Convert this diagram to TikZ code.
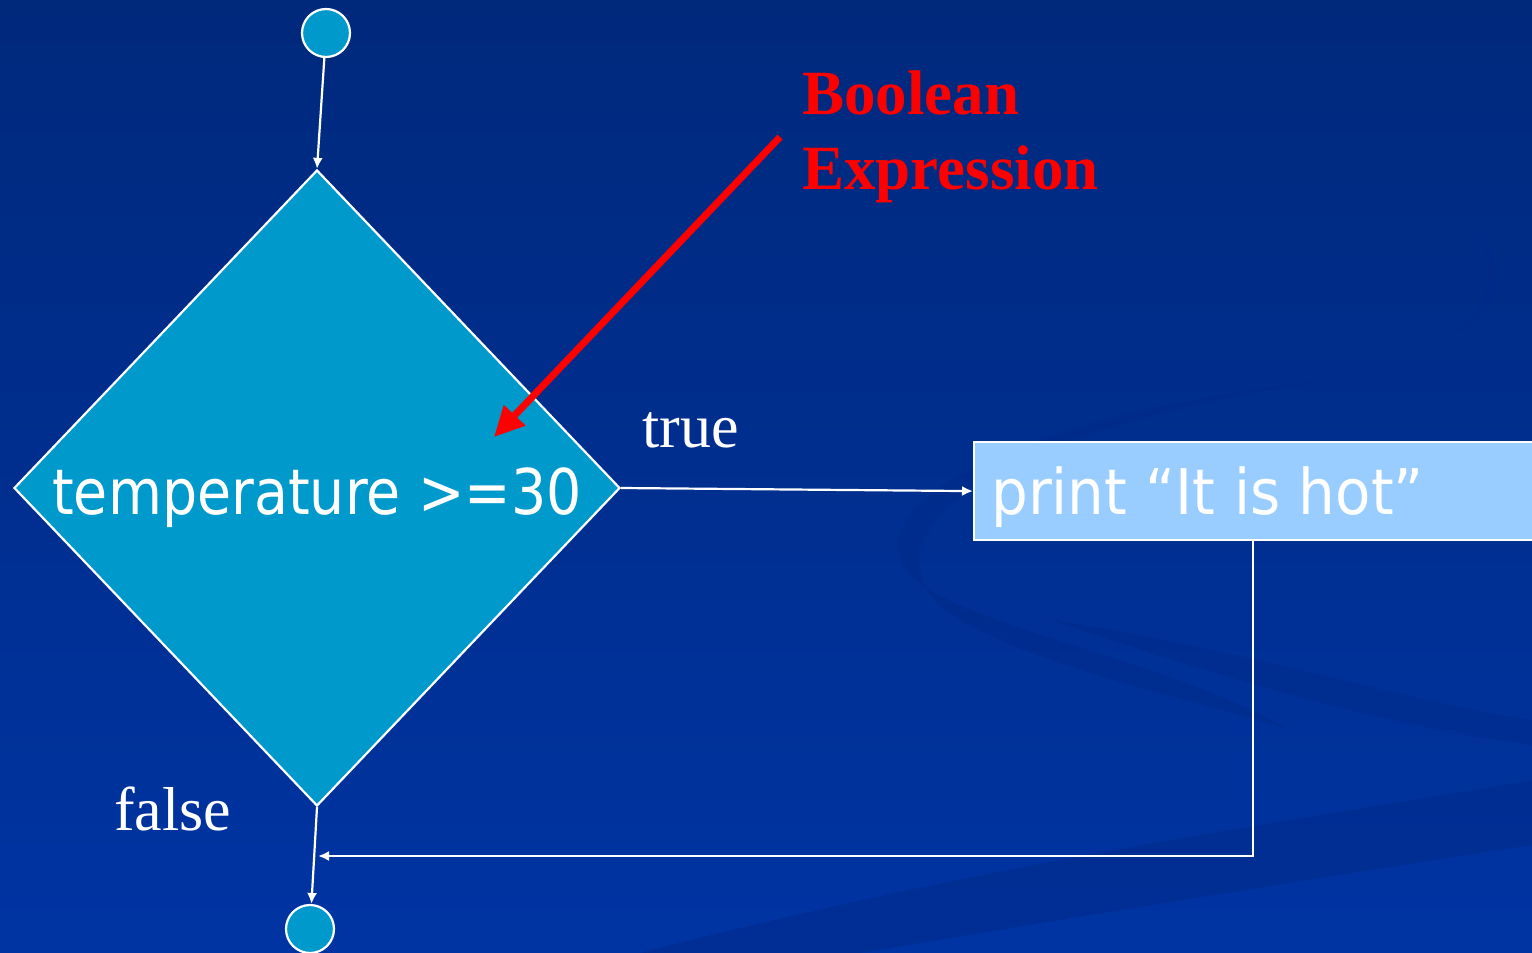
\documentclass[tikz,border=0pt]{standalone}
\usepackage{fontspec}
\setmainfont{Liberation Serif}
\newfontfamily\tahoma[FakeStretch=0.88]{DejaVu Sans}
\newfontfamily\tahomawide[FakeStretch=0.92]{DejaVu Sans}
\usetikzlibrary{arrows.meta,shapes.geometric}
\definecolor{bgtop}{HTML}{00297C}
\definecolor{bgbot}{HTML}{0034A3}
\definecolor{swirl}{HTML}{002A8A}
\definecolor{cyanfill}{HTML}{0099CC}
\definecolor{boxfill}{HTML}{99CCFF}
\definecolor{redarrow}{HTML}{FF0000}
\begin{document}
\begin{tikzpicture}[x=1pt,y=-1pt,
  conn/.style={draw=white,line width=2.2pt,-{Latex[length=11pt,width=10pt]}},
  term/.style={circle,draw=white,line width=2.2pt,fill=cyanfill,minimum size=48pt,inner sep=0pt},
  sans/.style={font=\tahoma\fontsize{63}{75}\selectfont,text=white,inner sep=0pt},
  serif/.style={font=\fontsize{62}{75}\selectfont,inner sep=0pt},
  swoosh/.style={fill=swirl,opacity=0.55}
]
\useasboundingbox (0,0) rectangle (1532,953);
\clip (0,0) rectangle (1532,953);
\shade[top color=bgtop,bottom color=bgbot] (0,0) rectangle (1532,953);
% faint background swooshes
\fill[swoosh] (1480,235) .. controls (1530,300) and (1480,360) .. (1250,390)
  .. controls (1000,430) and (880,500) .. (900,560)
  .. controls (920,620) and (1150,650) .. (1290,730)
  .. controls (1200,700) and (950,650) .. (925,585)
  .. controls (890,500) and (1050,425) .. (1300,385)
  .. controls (1470,355) and (1510,300) .. cycle;
\fill[swoosh] (640,953) .. controls (1000,860) and (1300,820) .. (1532,780)
  -- (1532,845) .. controls (1300,880) and (1000,930) .. (860,953) -- cycle;
\fill[swoosh] (1050,620) .. controls (1250,650) and (1400,700) .. (1532,720)
  -- (1532,745) .. controls (1380,725) and (1230,680) .. (1050,620) -- cycle;

% flowchart
\node[term] (start) at (326,33) {};
\node[diamond,draw=white,line width=2.2pt,fill=cyanfill,minimum width=606pt,
      minimum height=636pt,inner sep=0pt] (dec) at (317,488) {};
\node[sans,anchor=base] (cond) at (317,514) {temperature >=30};
\node[draw=white,line width=2.2pt,fill=boxfill,anchor=north west,
      minimum width=620pt,minimum height=98pt,inner sep=0pt] (act) at (973,441) {};
\node[sans,font=\tahomawide\fontsize{63}{75}\selectfont,anchor=base west] (acttext) at (991,514) {print “It is hot”};
\node[term] (stop) at (310,929) {};
\coordinate (corner) at (1253,856);

\draw[conn] (start) -- (dec.north);
\draw[conn] (dec.east) -- (act.west);
\draw[conn] (dec.south) -- (stop);
\draw[conn] (act.south -| corner) -- (corner) -- ([xshift=1pt]dec.south |- corner);

% labels
\node[serif,text=white,anchor=base west] (truelbl) at (642,447) {true};
\node[serif,text=white,anchor=base west] (falselbl) at (114,830) {false};
\node[serif,text=redarrow,font=\bfseries\fontsize{63}{75}\selectfont,
      anchor=north west,align=left] (boolean) at (802,71) {Boolean\\Expression};

% red pointer
\coordinate (redtail) at (780,137);
\coordinate (redtip) at (494,437);
\draw[redarrow,line width=7pt,-{Triangle[length=30pt,width=28pt]}] (redtail) -- (redtip);
\end{tikzpicture}
\end{document}
